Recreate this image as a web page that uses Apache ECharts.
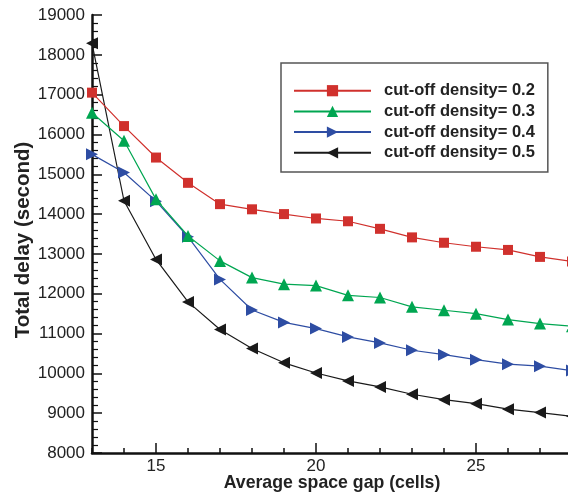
<!DOCTYPE html>
<html><head><meta charset="utf-8">
<script src="https://cdn.jsdelivr.net/npm/echarts@6/dist/echarts.min.js"></script>
<style>html,body{margin:0;padding:0;background:#fff}#c{width:568px;height:494px}</style>
</head><body><div id="c"></div>
<script>
const xValues = [13,14,15,16,17,18,19,20,21,22,23,24,25,26,27,28];
const d02 = [17050,16210,15420,14785,14250,14120,14000,13890,13820,13630,13415,13280,13180,13100,12925,12810];
const d03 = [16545,15840,14370,13450,12825,12405,12240,12205,11960,11905,11670,11585,11500,11350,11250,11185];
const d04 = [15500,15045,14325,13430,12360,11590,11280,11125,10915,10765,10580,10470,10345,10230,10180,10070];
const d05 = [18290,14335,12860,11795,11100,10625,10265,10010,9810,9660,9475,9340,9240,9100,9015,8920];
const xTickLabels = [15,20,25];
const xMinorTicks = [13,14,15,16,17,18,19,20,21,22,23,24,25,26,27,28];
const names = ['cut-off density= 0.2','cut-off density= 0.3','cut-off density= 0.4','cut-off density= 0.5'];
const colors = ['#d0312d','#00a651','#2e4da3','#1a1a1a'];

function pairs(arr){ return xValues.map((x,i)=>[x,arr[i]]); }

const chart = echarts.init(document.getElementById('c'), null, {renderer:'canvas'});
const font = 'Liberation Sans, Arial, Helvetica, sans-serif';
const series = [
  {name:names[0], data:pairs(d02), symbol:'rect', symbolSize:10},
  {name:names[1], data:pairs(d03), symbol:'triangle', symbolSize:12},
  {name:names[2], data:pairs(d04), symbol:'triangle', symbolSize:12, symbolRotate:-90},
  {name:names[3], data:pairs(d05), symbol:'triangle', symbolSize:12, symbolRotate:90}
].map((s,i)=>Object.assign({
  type:'line', xAxisIndex:0, yAxisIndex:0, showSymbol:true, animation:false,
  lineStyle:{width:1.2, color:colors[i]}, itemStyle:{color:colors[i]}, z:10-i
}, s));

chart.setOption({
  animation:false,
  backgroundColor:'#fff',
  grid:{left:92, right:-4, top:15, bottom:41, containLabel:false, outerBoundsMode:'none'},
  legend:{
    orient:'vertical', left:281, top:63,
    data:names, itemWidth:77, itemHeight:14, itemGap:3.7,
    padding:[19.2,13,10.7,12],
    borderColor:'#555', borderWidth:1.5, backgroundColor:'#fff',
    textStyle:{fontFamily:font, fontWeight:'bold', fontSize:16.5, color:'#222', padding:[0,0,0,8]}
  },
  xAxis:[{
    type:'value', min:13, max:28,
    name:'Average space gap (cells)', nameLocation:'middle', nameGap:21, nameMoveOverlap:false,
    nameTextStyle:{fontFamily:font, fontWeight:'bold', fontSize:17.7, color:'#222'},
    axisLine:{show:true, onZero:false, lineStyle:{color:'#111', width:2.5}},
    axisTick:{show:true, inside:true, length:10, customValues:xTickLabels, lineStyle:{color:'#111', width:1.5}},
    axisLabel:{show:true, customValues:xTickLabels, fontFamily:font, fontSize:17, color:'#222', margin:5},
    splitLine:{show:false}
  },{
    type:'value', min:13, max:28, position:'bottom',
    axisLine:{show:false},
    axisTick:{show:true, inside:true, length:5, customValues:xMinorTicks, lineStyle:{color:'#111', width:1.5}},
    axisLabel:{show:false}, splitLine:{show:false}
  }],
  yAxis:{
    type:'value', min:8000, max:19000, interval:1000,
    name:'Total delay (second)', nameLocation:'middle', nameGap:58, nameRotate:90, nameMoveOverlap:false,
    nameTextStyle:{fontFamily:font, fontWeight:'bold', fontSize:20.5, color:'#222', padding:[0,12,0,0]},
    axisLine:{show:true, onZero:false, lineStyle:{color:'#111', width:2.5}},
    axisTick:{show:true, inside:true, length:10, lineStyle:{color:'#111', width:1.5}},
    minorTick:{show:true, splitNumber:5, length:6, lineStyle:{color:'#111', width:1.2}},
    axisLabel:{fontFamily:font, fontSize:17, color:'#222', margin:7, formatter:(v)=>String(v)},
    splitLine:{show:false}, minorSplitLine:{show:false}
  },
  series:series
});
</script></body></html>
